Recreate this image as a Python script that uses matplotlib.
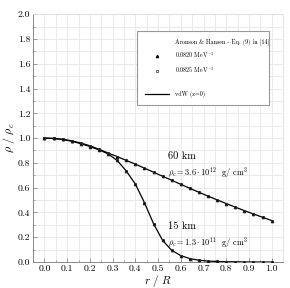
import matplotlib
matplotlib.use("Agg")
import matplotlib.pyplot as plt
from matplotlib.lines import Line2D
from matplotlib.ticker import MultipleLocator, FormatStrFormatter

plt.rcParams['font.family'] = ['cmr10', 'DejaVu Serif']
plt.rcParams['mathtext.fontset'] = 'cm'
plt.rcParams['axes.formatter.use_mathtext'] = True

r = [0.00, 0.04, 0.08, 0.12, 0.16, 0.20, 0.24, 0.28, 0.32, 0.36, 0.40, 0.44, 0.48,
     0.52, 0.56, 0.60, 0.64, 0.68, 0.72, 0.76, 0.80, 0.84, 0.88, 0.92, 0.96, 1.00]
rho_60km = [1.000, 0.997, 0.990, 0.978, 0.960, 0.938, 0.910, 0.880, 0.851, 0.820, 0.790, 0.758, 0.725,
            0.692, 0.660, 0.627, 0.595, 0.563, 0.532, 0.502, 0.472, 0.443, 0.415, 0.388, 0.361, 0.335]
rho_15km = [1.000, 0.997, 0.989, 0.975, 0.955, 0.932, 0.905, 0.873, 0.820, 0.735, 0.630, 0.480, 0.310,
            0.175, 0.095, 0.052, 0.028, 0.015, 0.008, 0.005, 0.003, 0.002, 0.001, 0.001, 0.000, 0.000]

leg_title = "Aronson & Hansen - Eq. (9) in [14]"
leg_a = r"0.0820 MeV$^{-1}$"
leg_b = r"0.0825 MeV$^{-1}$"
leg_line = "vdW (z=0)"

fig = plt.figure(figsize=(2.9, 2.88), dpi=100)
ax = fig.add_axes([0.114, 0.090, 0.862, 0.861])

for y in (rho_60km, rho_15km):
    ax.plot(r, y, color='black', lw=0.9, zorder=3)
    ax.plot(r, y, linestyle='none', marker='^', ms=1.6, color='black', zorder=4)
    ax.plot(r, y, linestyle='none', marker='s', ms=2.0, mfc='none', mec='#333333', mew=0.5, zorder=4)

ax.set_xlim(-0.05, 1.05)
ax.set_ylim(0.0, 2.0)
ax.xaxis.set_major_locator(MultipleLocator(0.1))
ax.xaxis.set_minor_locator(MultipleLocator(0.05))
ax.yaxis.set_major_locator(MultipleLocator(0.2))
ax.yaxis.set_minor_locator(MultipleLocator(0.1))
ax.xaxis.set_major_formatter(FormatStrFormatter('%.1f'))
ax.yaxis.set_major_formatter(FormatStrFormatter('%.1f'))
ax.grid(True, which='both', color='#e6e6e6', lw=0.6, zorder=0)
ax.set_axisbelow(True)
ax.tick_params(which='both', direction='in', color='#888888', labelsize=7, pad=2)
ax.tick_params(which='major', length=3, width=0.6)
ax.tick_params(which='minor', length=1.5, width=0.5)
for s in ('left', 'bottom'):
    ax.spines[s].set_color('#888888')
    ax.spines[s].set_linewidth(0.7)
for s in ('top', 'right'):
    ax.spines[s].set_color('#e0e0e0')
    ax.spines[s].set_linewidth(0.6)

ax.set_xlabel(r"$r\ /\ R$", fontsize=8, labelpad=-0.5)
ax.set_ylabel(r"$\rho\ /\ \rho_c$", fontsize=8.5, labelpad=0.5)

ax.text(0.545, 0.83, "60 km", fontsize=7.5)
ax.text(0.545, 0.70, r"$\rho_c = 3.6\cdot 10^{12}$  g/ cm$^3$", fontsize=6)
ax.text(0.545, 0.265, "15 km", fontsize=7.5)
ax.text(0.545, 0.135, r"$\rho_c = 1.3\cdot 10^{11}$  g/ cm$^3$", fontsize=6)

handles = [Line2D([], [], linestyle='none'),
           Line2D([], [], linestyle='none', marker='^', ms=1.6, color='black'),
           Line2D([], [], linestyle='none', marker='s', ms=2.0, mfc='none', mec='#333333', mew=0.5),
           Line2D([], [], linestyle='none'),
           Line2D([], [], color='black', lw=0.9)]
labels = [leg_title, leg_a, leg_b, " ", leg_line]
leg = ax.legend(handles, labels, loc='upper left', bbox_to_anchor=(0.416, 0.695, 0.528, 0.237),
                mode='expand', fontsize=4.4, frameon=True, fancybox=False, framealpha=1,
                edgecolor='#999999', handlelength=4.0, handletextpad=0.9, labelspacing=0.8,
                borderpad=1.25, borderaxespad=0)
leg.get_frame().set_linewidth(0.8)

fig.savefig("out.png", dpi=100)
